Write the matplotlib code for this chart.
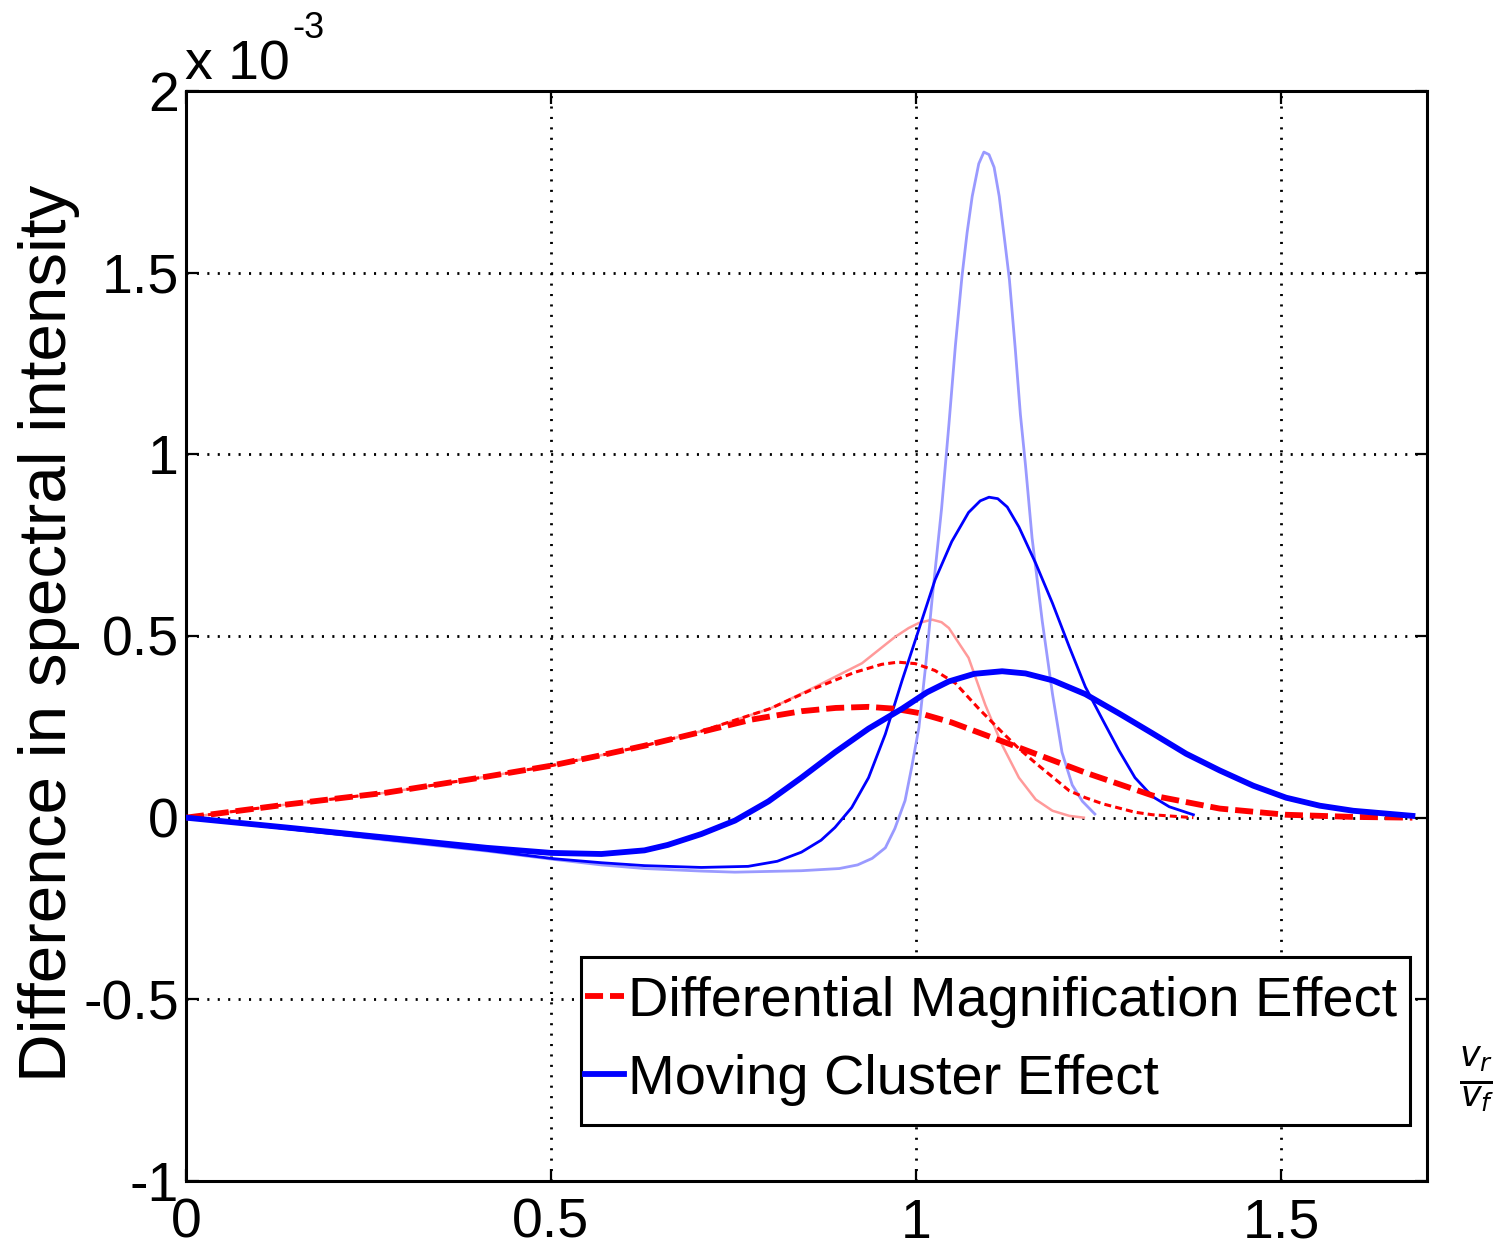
import matplotlib
matplotlib.use("Agg")
import matplotlib.pyplot as plt
from matplotlib.patches import Rectangle

plt.rcParams['lines.scale_dashes'] = False
plt.rcParams['font.family'] = ['Liberation Sans', 'DejaVu Sans']

# ---- data (y in units of 1e-3) ----
dme_thick_x = [0, 0.137, 0.275, 0.412, 0.5, 0.569, 0.628, 0.706, 0.775, 0.843, 0.89, 0.935, 0.97,
               1.004, 1.049, 1.141, 1.232, 1.324, 1.416, 1.507, 1.60, 1.68]
dme_thick_y = [0, 0.036, 0.069, 0.113, 0.143, 0.172, 0.198, 0.236, 0.270, 0.293, 0.302, 0.305, 0.300,
               0.288, 0.262, 0.193, 0.124, 0.061, 0.025, 0.008, 0.002, 0.0]

dme_mid_x = [0, 0.137, 0.275, 0.412, 0.5, 0.569, 0.628, 0.706, 0.80, 0.86, 0.916, 0.953, 0.975,
             0.999, 1.026, 1.054, 1.086, 1.118, 1.141, 1.164, 1.21, 1.232, 1.256, 1.30, 1.324, 1.38]
dme_mid_y = [0, 0.036, 0.069, 0.113, 0.143, 0.172, 0.198, 0.238, 0.300, 0.355, 0.400, 0.422, 0.428,
             0.424, 0.405, 0.370, 0.300, 0.235, 0.190, 0.150, 0.074, 0.055, 0.038, 0.015, 0.008, 0.0]

dme_thin_x = [0, 0.137, 0.275, 0.412, 0.5, 0.569, 0.628, 0.706, 0.80, 0.86, 0.926, 0.971, 0.99, 1.004,
              1.022, 1.035, 1.045, 1.072, 1.095, 1.118, 1.141, 1.164, 1.187, 1.21, 1.23]
dme_thin_y = [0, 0.036, 0.069, 0.113, 0.143, 0.172, 0.198, 0.238, 0.300, 0.358, 0.425, 0.497, 0.522, 0.536,
              0.545, 0.538, 0.522, 0.440, 0.310, 0.200, 0.110, 0.050, 0.019, 0.005, 0.0]

mce_thick_x = [0, 0.137, 0.275, 0.412, 0.5, 0.569, 0.628, 0.66, 0.706, 0.752, 0.798, 0.843, 0.889,
               0.935, 0.981, 1.015, 1.045, 1.08, 1.118, 1.15, 1.187, 1.232, 1.278, 1.324, 1.37,
               1.416, 1.462, 1.507, 1.553, 1.599, 1.68]
mce_thick_y = [0, -0.027, -0.055, -0.083, -0.097, -0.100, -0.090, -0.075, -0.045, -0.008, 0.045, 0.110,
               0.180, 0.245, 0.300, 0.345, 0.375, 0.396, 0.403, 0.397, 0.378, 0.340, 0.287, 0.232,
               0.176, 0.130, 0.088, 0.055, 0.033, 0.019, 0.005]

mce_mid_x = [0, 0.137, 0.275, 0.412, 0.504, 0.569, 0.628, 0.706, 0.77, 0.81, 0.843, 0.87, 0.889, 0.912,
             0.935, 0.958, 0.981, 0.999, 1.026, 1.049, 1.072, 1.088, 1.10, 1.112, 1.125, 1.141, 1.164,
             1.187, 1.21, 1.232, 1.256, 1.278, 1.30, 1.324, 1.347, 1.38]
mce_mid_y = [0, -0.030, -0.060, -0.090, -0.113, -0.124, -0.132, -0.137, -0.134, -0.120, -0.095, -0.062,
             -0.027, 0.028, 0.110, 0.230, 0.378, 0.488, 0.654, 0.760, 0.840, 0.872, 0.882, 0.878,
             0.855, 0.800, 0.700, 0.590, 0.470, 0.360, 0.268, 0.185, 0.110, 0.058, 0.030, 0.008]

mce_thin_x = [0, 0.137, 0.275, 0.412, 0.504, 0.569, 0.628, 0.706, 0.752, 0.843, 0.895, 0.92, 0.94,
              0.958, 0.971, 0.985, 0.994, 1.004, 1.013, 1.022, 1.035, 1.045, 1.054, 1.063, 1.070,
              1.077, 1.086, 1.093, 1.100, 1.107, 1.114, 1.122, 1.128, 1.136, 1.143, 1.15, 1.159,
              1.173, 1.187, 1.20, 1.214, 1.228, 1.245]
mce_thin_y = [0, -0.030, -0.062, -0.092, -0.115, -0.130, -0.140, -0.147, -0.150, -0.146, -0.140, -0.130,
              -0.112, -0.083, -0.030, 0.047, 0.138, 0.248, 0.414, 0.600, 0.850, 1.080, 1.300, 1.490,
              1.610, 1.710, 1.800, 1.832, 1.825, 1.790, 1.710, 1.580, 1.480, 1.290, 1.110, 0.970,
              0.770, 0.540, 0.340, 0.180, 0.090, 0.045, 0.010]

xticks = [0, 0.5, 1, 1.5]
xtick_labels = ['0', '0.5', '1', '1.5']
yticks = [-1, -0.5, 0, 0.5, 1, 1.5, 2]
ytick_labels = ['-1', '-0.5', '0', '0.5', '1', '1.5', '2']
legend_labels = ['Differential Magnification Effect', 'Moving Cluster Effect']
ylabel = 'Difference in spectral intensity'

# ---- figure ----
W, H = 1504, 1250
fig = plt.figure(figsize=(W / 100, H / 100), dpi=100)
L, R, T, B = 186, 1427, 91, 1181
ax = fig.add_axes([L / W, 1 - B / H, (R - L) / W, (B - T) / H])

ax.plot(dme_thin_x, dme_thin_y, color='#ff9a9a', lw=1.8, zorder=3)
ax.plot(mce_thin_x, mce_thin_y, color='#9a9aff', lw=2.0, zorder=3)
ax.plot(dme_mid_x, dme_mid_y, color='red', lw=2.2, linestyle=(0, (5, 3)), zorder=4)
ax.plot(mce_mid_x, mce_mid_y, color='blue', lw=2.0, zorder=4)
l_red, = ax.plot(dme_thick_x, dme_thick_y, color='red', lw=4.2, linestyle=(0, (13, 5)), zorder=5)
l_blue, = ax.plot(mce_thick_x, mce_thick_y, color='blue', lw=4.2, zorder=5)

ax.set_xlim(0, 1.7)
ax.set_ylim(-1, 2)
ax.set_xticks(xticks)
ax.set_xticklabels(xtick_labels)
ax.set_yticks(yticks)
ax.set_yticklabels(ytick_labels)

ax.grid(True, color='black', linestyle=(0, (1.5, 6)), linewidth=2.0)
for s in ax.spines.values():
    s.set_linewidth(2.2)
ax.tick_params(direction='in', length=9, width=1.6, top=True, right=True, labelsize=40)
ax.tick_params(axis='x', pad=12)
ax.tick_params(axis='y', pad=5)

# legend frame (drawn separately to get MATLAB-like tight box)
frame = Rectangle((581 / W, 1 - 1125 / H), (1410 - 581) / W, (1125 - 957) / H,
                  transform=fig.transFigure, facecolor='white', edgecolor='black',
                  linewidth=2.2, clip_on=False, zorder=15)
ax.add_patch(frame)

leg = ax.legend([l_red, l_blue], legend_labels, loc='upper left',
                bbox_to_anchor=(585 / W, 1 - 976 / H), bbox_transform=fig.transFigure,
                borderaxespad=0, fontsize=40.3, handlelength=0.7, handletextpad=0.06,
                borderpad=0, labelspacing=0.46, frameon=False)
leg.set_zorder(20)

fig.text(49 / W, 1 - 633 / H, ylabel, rotation=90, ha='center', va='center', fontsize=48.5)

fig.text(185 / W, 1 - 80 / H, 'x 10', ha='left', va='baseline', fontsize=40)
fig.text(292 / W, 1 - 38 / H, '-3', ha='left', va='baseline', fontsize=26)

fig.text(1477 / W, 1 - 1080 / H, r'$\frac{v_r}{v_f}$', ha='center', va='center', fontsize=36)

fig.savefig('out.png', dpi=100)
